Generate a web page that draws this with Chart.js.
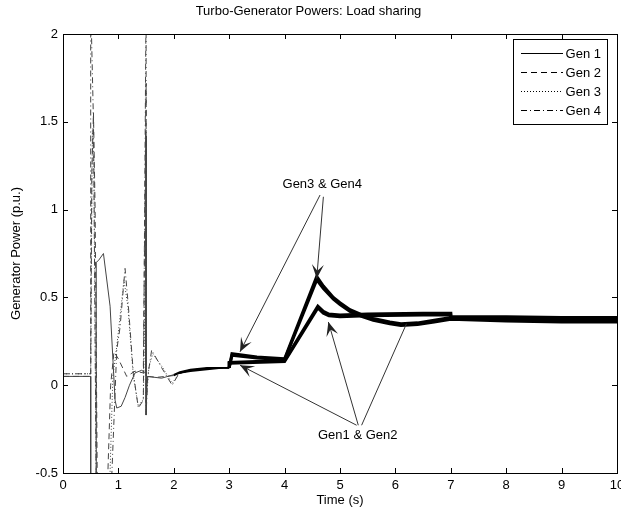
<!DOCTYPE html>
<html>
<head>
<meta charset="utf-8">
<script src="https://cdn.jsdelivr.net/npm/chart.js@4.4.1/dist/chart.umd.min.js"></script>
<style>
  body { margin: 0; background: #fff; }
  #wrap { width: 621px; height: 512px; }
</style>
</head>
<body>
<div id="wrap"><canvas id="chartGen" width="621" height="512"></canvas></div>
<script>
// --- data ---
const seriesNames = ["Gen 1", "Gen 2", "Gen 3", "Gen 4"];

const tGen1 = [0, 0.5, 0.5, 0.6, 0.6, 0.64, 0.73, 0.85, 0.94, 0.97, 1.05, 1.12, 1.2, 1.3, 1.42, 1.49, 1.5, 1.5, 1.52, 1.6, 1.78, 2.0, 2.11, 2.3, 2.6, 2.9, 3.0, 3.0, 4.0, 4.6, 4.7, 4.8, 5.0, 5.5, 6.5, 7.0, 7.0, 8.0, 9.0, 10.0];
const pGen1 = [0.05, 0.05, -0.6, -0.6, 0.70, 0.71, 0.75, 0.45, -0.085, -0.13, -0.12, -0.07, 0.0, 0.07, 0.085, 0.07, 1.42, -0.17, 0.05, 0.047, 0.04, 0.06, 0.076, 0.09, 0.10, 0.10, 0.10, 0.13, 0.14, 0.45, 0.42, 0.405, 0.40, 0.405, 0.41, 0.41, 0.39, 0.39, 0.385, 0.385];

const tGen2 = [0, 0.5, 0.52, 0.55, 0.58, 0.62, 0.8, 0.86, 0.92, 1.0, 1.15, 1.3, 1.45, 1.5, 1.5, 1.52, 1.7, 2.0, 2.11, 2.3, 2.6, 2.9, 3.0, 3.0, 4.0, 4.6, 4.7, 4.8, 5.0, 5.5, 6.5, 7.0, 7.0, 8.0, 9.0, 10.0];
const pGen2 = [0.05, 0.05, 1.2, 1.55, 1.0, -0.6, -0.6, 0.0, 0.19, 0.15, 0.05, 0.08, 0.07, 1.72, -0.1, 0.05, 0.045, 0.055, 0.07, 0.085, 0.095, 0.10, 0.10, 0.125, 0.135, 0.44, 0.41, 0.395, 0.39, 0.395, 0.40, 0.40, 0.38, 0.38, 0.375, 0.375];

const tGen3 = [0, 0.5, 0.53, 0.56, 0.6, 0.84, 0.9, 0.97, 1.05, 1.1, 1.17, 1.27, 1.36, 1.45, 1.5, 1.5, 1.55, 1.62, 1.8, 1.97, 2.1, 2.3, 2.6, 2.9, 3.0, 3.05, 3.5, 4.0, 4.58, 4.7, 4.88, 5.0, 5.18, 5.4, 5.6, 5.9, 6.1, 6.4, 6.7, 7.0, 8.0, 9.0, 10.0];
const pGen3 = [0.065, 0.065, 1.45, 1.2, -0.6, -0.6, 0.05, 0.22, 0.45, 0.6, 0.45, 0.05, -0.12, -0.08, 0.9, -0.1, 0.1, 0.18, 0.1, 0.01, 0.07, 0.085, 0.095, 0.10, 0.10, 0.17, 0.155, 0.145, 0.60, 0.55, 0.49, 0.46, 0.42, 0.39, 0.37, 0.35, 0.34, 0.345, 0.36, 0.375, 0.365, 0.36, 0.36];

const tGen4 = [0, 0.5, 0.5, 0.55, 0.6, 0.87, 0.97, 1.03, 1.12, 1.18, 1.27, 1.36, 1.45, 1.5, 1.5, 1.53, 1.6, 1.78, 1.97, 2.1, 2.3, 2.6, 2.9, 3.0, 3.05, 3.5, 4.0, 4.58, 4.7, 4.88, 5.0, 5.18, 5.4, 5.6, 5.9, 6.1, 6.4, 6.7, 7.0, 8.0, 9.0, 10.0];
const pGen4 = [0.065, 0.065, 2.2, 1.5, -0.6, -0.6, 0.2, 0.33, 0.665, 0.45, 0.067, -0.13, -0.085, 2.2, -0.17, 0.05, 0.2, 0.1, 0.0, 0.07, 0.08, 0.09, 0.10, 0.10, 0.18, 0.16, 0.15, 0.62, 0.565, 0.50, 0.47, 0.43, 0.40, 0.38, 0.36, 0.35, 0.355, 0.37, 0.385, 0.37, 0.365, 0.365];

const xTicks = [0, 1, 2, 3, 4, 5, 6, 7, 8, 9, 10];
const yTicks = [-0.5, 0, 0.5, 1, 1.5, 2];

// annotations: text + arrows (in data units)
const noteText = ["Gen3 & Gen4", "Gen1 & Gen2"];
const noteAt = [[4.68, 1.143], [5.32, -0.285]];
const arrowFrom = [[4.64, 1.083], [4.70, 1.073], [5.30, -0.228], [5.33, -0.228], [5.39, -0.228]];
const arrowTo = [[3.195, 0.19], [4.58, 0.608], [3.195, 0.114], [4.79, 0.36], [6.2, 0.35]];
const arrowHead = [true, true, true, true, false];

const FONT = "'Liberation Sans', Arial, sans-serif";
const dashes = [[], [6, 4], [1, 2], [6, 3, 1, 3]];

function pts(t, p) {
    return t.map((x, i) => ({ x: x, y: p[i] }));
}

const allT = [tGen1, tGen2, tGen3, tGen4];
const allP = [pGen1, pGen2, pGen3, pGen4];

const datasets = seriesNames.map((name, i) => ({
    label: name,
    data: pts(allT[i], allP[i]),
    borderColor: "#444",
    borderWidth: 1,
    borderDash: dashes[i],
    pointRadius: 0,
    showLine: true,
    tension: 0,
    clip: 0,
    segment: {
        // after ~2 s the traces in the figure merge into a dense, thick band
        borderWidth: ctx => ctx.p0.parsed.x >= 3 ? 3 : (ctx.p0.parsed.x >= 2 ? 1.5 : 1),
        borderColor: ctx => ctx.p0.parsed.x >= 2 ? "#000" : "#444",
        borderDash: ctx => ctx.p0.parsed.x >= 2 ? [] : dashes[i]
    }
}));

// box, inward ticks, legend, annotations
const decorPlugin = {
    id: "decor",
    afterDatasetsDraw(chart) {
        const ctx = chart.ctx;
        const a = chart.chartArea;
        const xs = chart.scales.x, ys = chart.scales.y;
        ctx.save();
        ctx.strokeStyle = "#000";
        ctx.lineWidth = 1;
        ctx.setLineDash([]);
        ctx.strokeRect(Math.round(a.left) + 0.5, Math.round(a.top) + 0.5,
            Math.round(a.right - a.left), Math.round(a.bottom - a.top));
        const tl = 5;
        ctx.beginPath();
        xTicks.forEach(v => {
            const px = Math.round(xs.getPixelForValue(v)) + 0.5;
            ctx.moveTo(px, a.bottom); ctx.lineTo(px, a.bottom - tl);
            ctx.moveTo(px, a.top); ctx.lineTo(px, a.top + tl);
        });
        yTicks.forEach(v => {
            const py = Math.round(ys.getPixelForValue(v)) + 0.5;
            ctx.moveTo(a.left, py); ctx.lineTo(a.left + tl, py);
            ctx.moveTo(a.right, py); ctx.lineTo(a.right - tl, py);
        });
        ctx.stroke();

        // annotations
        ctx.strokeStyle = "#333";
        ctx.fillStyle = "#222";
        ctx.lineWidth = 1;
        arrowFrom.forEach((f, i) => {
            const x0 = xs.getPixelForValue(f[0]), y0 = ys.getPixelForValue(f[1]);
            const x1 = xs.getPixelForValue(arrowTo[i][0]), y1 = ys.getPixelForValue(arrowTo[i][1]);
            ctx.beginPath();
            ctx.moveTo(x0, y0); ctx.lineTo(x1, y1);
            ctx.stroke();
            if (arrowHead[i]) {
                const ang = Math.atan2(y1 - y0, x1 - x0);
                const L = 14, W = 6;
                const bx = x1 - L * Math.cos(ang), by = y1 - L * Math.sin(ang);
                const nx = x1 - 0.55 * L * Math.cos(ang), ny = y1 - 0.55 * L * Math.sin(ang);
                ctx.beginPath();
                ctx.moveTo(x1, y1);
                ctx.lineTo(bx + W * Math.sin(ang), by - W * Math.cos(ang));
                ctx.lineTo(nx, ny);
                ctx.lineTo(bx - W * Math.sin(ang), by + W * Math.cos(ang));
                ctx.closePath();
                ctx.fill();
            }
        });
        ctx.fillStyle = "#000";
        ctx.font = "13px " + FONT;
        ctx.textAlign = "center";
        ctx.textBaseline = "middle";
        noteText.forEach((s, i) => {
            ctx.fillText(s, xs.getPixelForValue(noteAt[i][0]), ys.getPixelForValue(noteAt[i][1]));
        });

        // legend box (top right, inside the axes)
        const bw = 94, bh = 85;
        const bx = Math.round(a.right) - 10 - bw, by = Math.round(a.top) + 5;
        ctx.fillStyle = "#fff";
        ctx.fillRect(bx, by, bw, bh);
        ctx.strokeStyle = "#000";
        ctx.strokeRect(bx + 0.5, by + 0.5, bw, bh);
        ctx.textAlign = "right";
        ctx.font = "13px " + FONT;
        seriesNames.forEach((name, i) => {
            const ry = by + 14 + i * 19;
            ctx.setLineDash(dashes[i]);
            ctx.beginPath();
            ctx.moveTo(bx + 8, ry + 0.5);
            ctx.lineTo(bx + 50, ry + 0.5);
            ctx.stroke();
            ctx.setLineDash([]);
            ctx.fillStyle = "#000";
            ctx.fillText(name, bx + bw - 6, ry + 1);
        });
        ctx.restore();
    }
};

new Chart(document.getElementById("chartGen"), {
    type: "scatter",
    data: { datasets: datasets },
    options: {
        responsive: false,
        animation: false,
        devicePixelRatio: 1,
        layout: { padding: { top: 0, right: 4, left: 0, bottom: 0 } },
        plugins: {
            legend: { display: false },
            tooltip: { enabled: false },
            title: {
                display: true,
                text: "Turbo-Generator Powers: Load sharing",
                color: "#000",
                font: { family: FONT, size: 13, weight: "normal" },
                padding: { top: 4, bottom: 14.4 }
            }
        },
        scales: {
            x: {
                type: "linear",
                min: 0,
                max: 10,
                afterBuildTicks: s => { s.ticks = xTicks.map(v => ({ value: v })); },
                afterFit: s => { s.height = 39; s.paddingLeft = 0; s.paddingRight = 0; },
                grid: { display: false, drawTicks: false },
                border: { display: false },
                ticks: { color: "#000", padding: 5, maxRotation: 0, autoSkip: false, font: { family: FONT, size: 13 } },
                title: {
                    display: true,
                    text: "Time (s)",
                    color: "#000",
                    font: { family: FONT, size: 13 },
                    padding: { top: 0, bottom: 4 }
                }
            },
            y: {
                type: "linear",
                min: -0.5,
                max: 2,
                afterBuildTicks: s => { s.ticks = yTicks.map(v => ({ value: v })); },
                afterFit: s => { s.width = 63; s.paddingTop = 0; s.paddingBottom = 0; },
                grid: { display: false, drawTicks: false },
                border: { display: false },
                ticks: {
                    color: "#000", padding: 5, autoSkip: false,
                    font: { family: FONT, size: 13 },
                    callback: v => String(v)
                },
                title: {
                    display: true,
                    text: "Generator Power (p.u.)",
                    color: "#000",
                    font: { family: FONT, size: 13 },
                    padding: { top: 9, bottom: 0 }
                }
            }
        }
    },
    plugins: [decorPlugin]
});
</script>
</body>
</html>
